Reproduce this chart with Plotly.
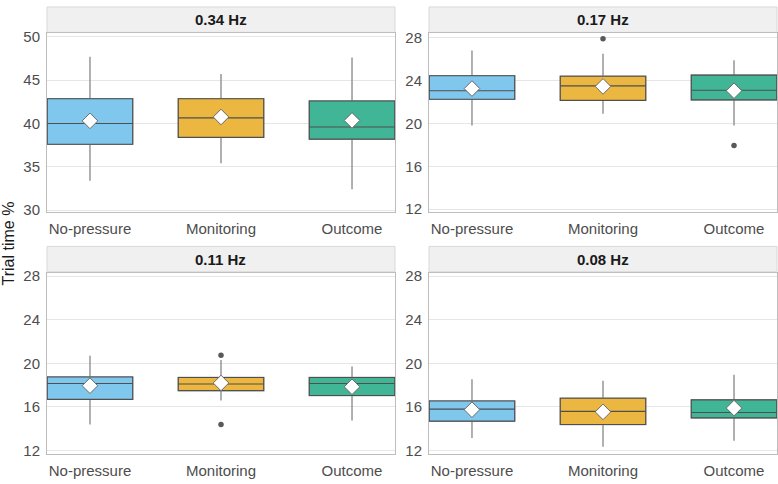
import plotly.graph_objects as go

conditions = ["No-pressure", "Monitoring", "Outcome"]
panels = ["0.34 Hz", "0.17 Hz", "0.11 Hz", "0.08 Hz"]
colors = ["#80C7EE", "#ECB740", "#40B696"]

# per panel, per condition: [lower whisker, Q1, median, Q3, upper whisker]
lowerfence = [[33.4, 35.4, 32.4], [19.8, 20.9, 19.8], [14.4, 16.6, 14.75], [13.15, 12.35, 12.9]]
q1 = [[37.6, 38.4, 38.2], [22.25, 22.15, 22.2], [16.7, 17.5, 17.05], [14.7, 14.4, 15.0]]
median = [[40.0, 40.65, 39.6], [23.05, 23.5, 23.1], [18.15, 18.1, 18.15], [15.8, 15.6, 15.5]]
q3 = [[42.85, 42.85, 42.6], [24.45, 24.4, 24.5], [18.75, 18.7, 18.7], [16.55, 16.8, 16.65]]
upperfence = [[47.7, 45.7, 47.6], [26.8, 26.5, 25.9], [20.7, 20.3, 19.7], [18.55, 18.4, 18.95]]
means = [[40.3, 40.75, 40.35], [23.25, 23.45, 23.05], [17.95, 18.2, 17.85], [15.75, 15.55, 15.9]]
# outliers: (panel index, condition, value)
outlier_panel = [1, 1, 2, 2]
outlier_cond = ["Monitoring", "Outcome", "Monitoring", "Monitoring"]
outlier_val = [27.9, 17.95, 20.75, 14.4]

y_ranges = [[29.8, 50.4], [11.75, 28.4], [11.73, 28.3], [11.73, 28.3]]
y_ticks = [[30, 35, 40, 45, 50], [12, 16, 20, 24, 28], [12, 16, 20, 24, 28], [12, 16, 20, 24, 28]]

W, H = 778, 484
# pixel boxes of the four plot areas (x0, x1, ytop, ybottom)
areas = [(47, 395, 29, 211.7), (429, 777, 29, 211.7), (47, 395, 274, 459), (429, 777, 274, 459)]

fig = go.Figure()
for p in range(4):
    ax = "" if p == 0 else str(p + 1)
    for c, cond in enumerate(conditions):
        # whiskers (light grey)
        fig.add_trace(go.Box(
            x=[cond], q1=[q1[p][c]], median=[median[p][c]], q3=[q3[p][c]],
            lowerfence=[lowerfence[p][c]], upperfence=[upperfence[p][c]],
            width=0.652, whiskerwidth=0, fillcolor=colors[c],
            line=dict(color="#8f8f8f", width=1.4),
            xaxis="x" + ax, yaxis="y" + ax, showlegend=False, hoverinfo="skip"))
        # box body on top
        fig.add_trace(go.Box(
            x=[cond], q1=[q1[p][c]], median=[median[p][c]], q3=[q3[p][c]],
            lowerfence=[q1[p][c]], upperfence=[q3[p][c]],
            width=0.652, whiskerwidth=0, fillcolor=colors[c],
            line=dict(color="#4f4f4f", width=1.1),
            xaxis="x" + ax, yaxis="y" + ax, showlegend=False, hoverinfo="skip"))
    fig.add_trace(go.Scatter(
        x=conditions, y=means[p], mode="markers",
        marker=dict(symbol="diamond", size=12, color="white", line=dict(color="#6a6a6a", width=1)),
        xaxis="x" + ax, yaxis="y" + ax, showlegend=False, hoverinfo="skip"))
    ox = [outlier_cond[i] for i in range(len(outlier_val)) if outlier_panel[i] == p]
    oy = [outlier_val[i] for i in range(len(outlier_val)) if outlier_panel[i] == p]
    if ox:
        fig.add_trace(go.Scatter(
            x=ox, y=oy, mode="markers", marker=dict(size=5.5, color="#595959"),
            xaxis="x" + ax, yaxis="y" + ax, showlegend=False, hoverinfo="skip"))

layout = dict(
    width=W, height=H, margin=dict(l=0, r=0, t=0, b=0),
    paper_bgcolor="white", plot_bgcolor="white", boxmode="overlay",
    font=dict(family="Liberation Sans, Arial, sans-serif"),
)
shapes = []
annotations = []
for p in range(4):
    x0, x1, yt, yb = areas[p]
    ax = "" if p == 0 else str(p + 1)
    layout["xaxis" + ax] = dict(
        domain=[x0 / W, x1 / W], anchor="y" + ax, type="category",
        categoryorder="array", categoryarray=conditions, range=[-0.328, 2.328],
        showgrid=False, showline=True, mirror=True, linecolor="#bdbdbd", linewidth=1,
        ticks="outside", ticklen=3, tickcolor="rgba(0,0,0,0)",
        tickfont=dict(size=15, color="#4d4d4d"), zeroline=False)
    layout["yaxis" + ax] = dict(
        domain=[1 - yb / H, 1 - yt / H], anchor="x" + ax, range=y_ranges[p],
        tickvals=y_ticks[p], showgrid=True, gridcolor="#e6e6e6", gridwidth=1,
        showline=True, mirror=True, linecolor="#bdbdbd", linewidth=1,
        ticks="outside", ticklen=3, tickcolor="rgba(0,0,0,0)",
        tickfont=dict(size=15, color="#4d4d4d"), zeroline=False)
    # strip
    st_top, st_bot = yt - 27, yt - 1
    shapes.append(dict(type="rect", xref="paper", yref="paper",
                       x0=x0 / W, x1=x1 / W, y0=1 - st_bot / H, y1=1 - st_top / H,
                       fillcolor="#f0f0f0", line=dict(color="#d9d9d9", width=1), layer="below"))
    annotations.append(dict(text="<b>" + panels[p] + "</b>", xref="paper", yref="paper",
                            x=(x0 + x1) / 2 / W, y=1 - (st_top + st_bot) / 2 / H,
                            showarrow=False, font=dict(size=15, color="#1a1a1a"),
                            xanchor="center", yanchor="middle"))
annotations.append(dict(text="Trial time %", xref="paper", yref="paper", x=8 / W, y=1 - 244 / H,
                        textangle=-90, showarrow=False, font=dict(size=16, color="#1a1a1a"),
                        xanchor="center", yanchor="middle"))
layout["shapes"] = shapes
layout["annotations"] = annotations
fig.update_layout(**layout)
fig.write_html("out.html")
